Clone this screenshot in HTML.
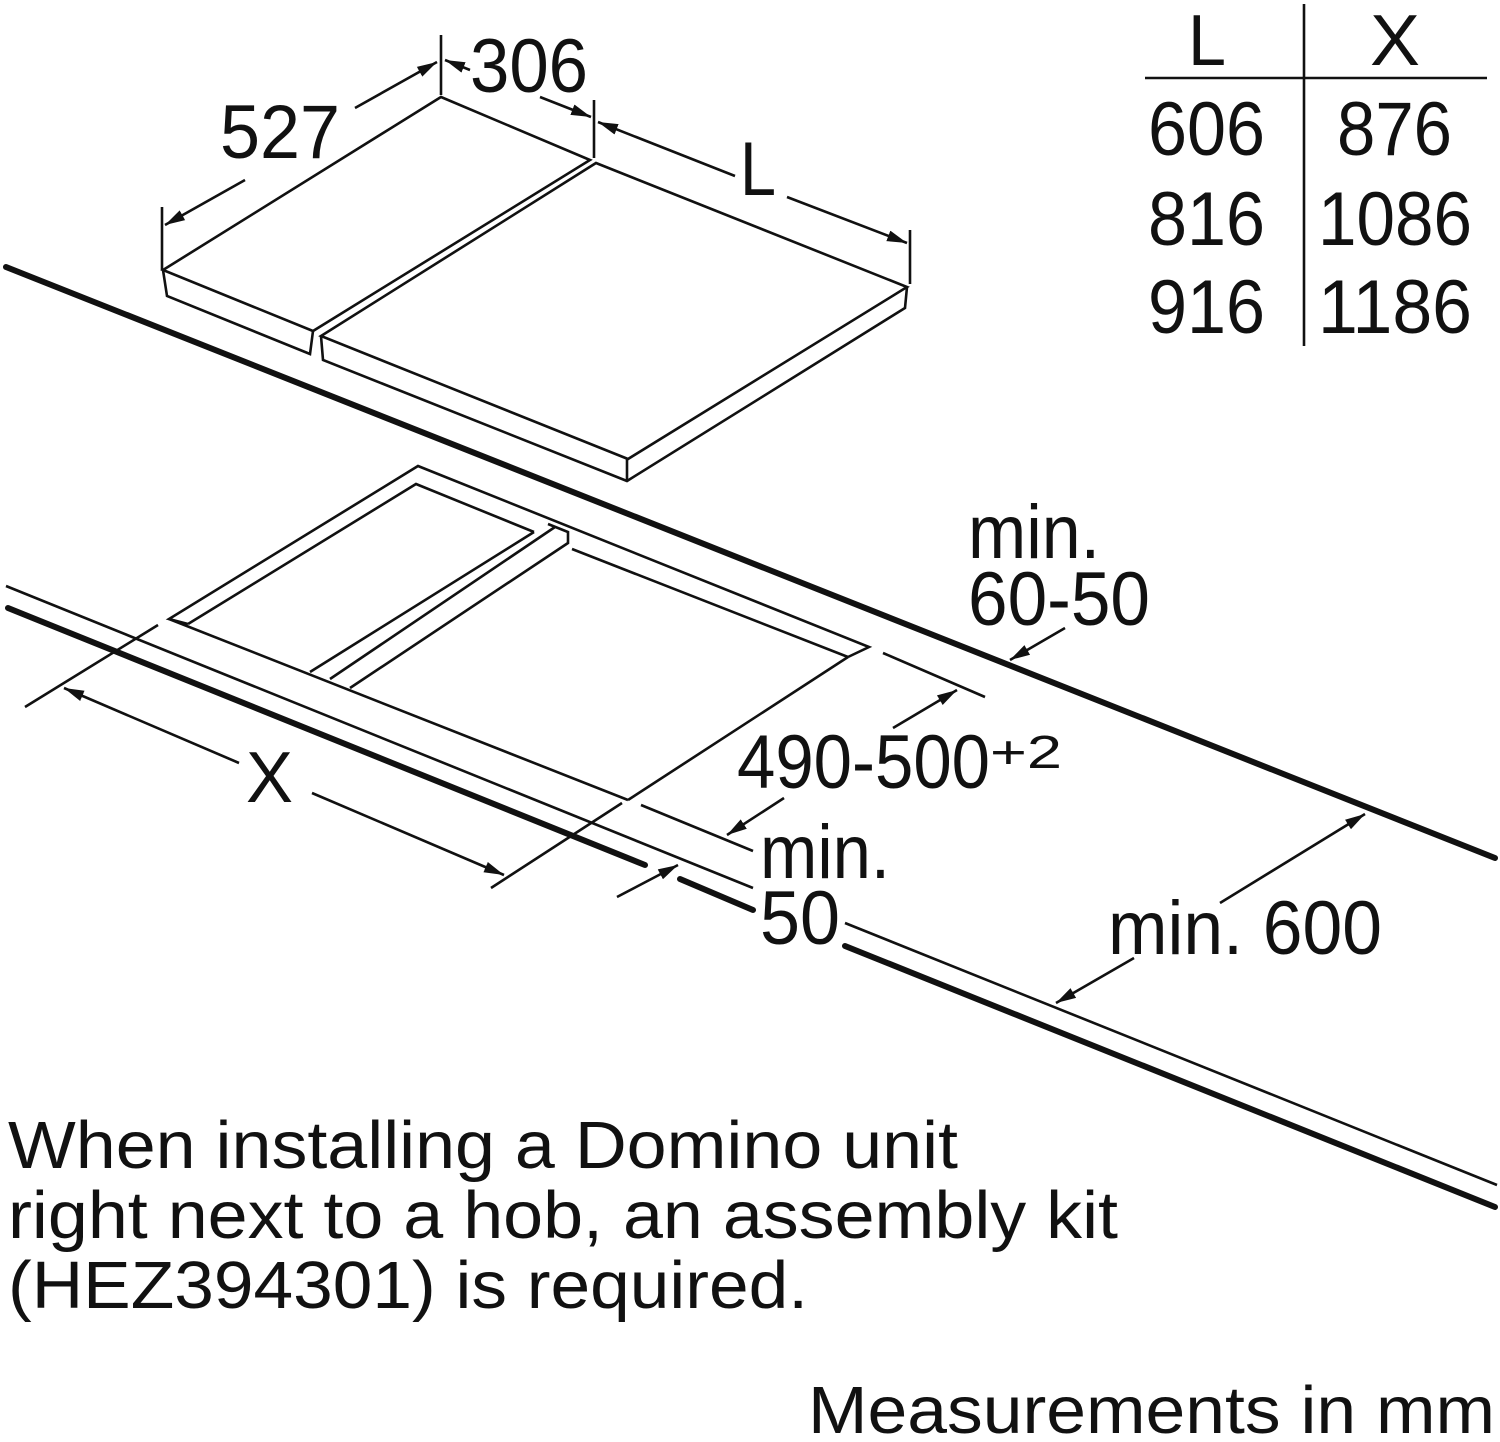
<!DOCTYPE html>
<html><head><meta charset="utf-8"><style>
html,body{margin:0;padding:0;background:#fff;}
svg{display:block;}
text{font-family:"Liberation Sans",Arial,sans-serif;fill:#111;}
</style></head><body>
<svg width="1500" height="1442" viewBox="0 0 1500 1442" xmlns="http://www.w3.org/2000/svg">
<defs>
<marker id="b" viewBox="0 0 10 10" refX="10" refY="5" markerWidth="20" markerHeight="14" markerUnits="userSpaceOnUse" orient="auto-start-reverse" preserveAspectRatio="none">
<path d="M0,1 L10,5 L0,9 z" fill="#111"/></marker>
</defs>
<g stroke="#111" stroke-width="2.6" fill="none" stroke-linejoin="miter">
<polygon points="441,97 590,160 313,331 163,270"/>
<polyline points="163,270 167,296 310,354 313,331"/>
<polygon points="596,163 907,287 628,459 321,336"/>
<polyline points="321,336 323,360 627,481 905,308 907,287"/>
<line x1="627" y1="459" x2="627" y2="481"/>
<line x1="441" y1="35" x2="441" y2="95"/>
<line x1="594" y1="100" x2="594" y2="158"/>
<line x1="162" y1="207" x2="162" y2="270"/>
<line x1="910" y1="230" x2="910" y2="284"/>
<line x1="245" y1="180" x2="165" y2="225" marker-end="url(#b)"/>
<line x1="355" y1="108" x2="437" y2="62" marker-end="url(#b)"/>
<line x1="470" y1="70" x2="445" y2="60" marker-end="url(#b)"/>
<line x1="540" y1="97" x2="591" y2="117" marker-end="url(#b)"/>
<line x1="735" y1="176" x2="598" y2="122" marker-end="url(#b)"/>
<line x1="787" y1="197" x2="907" y2="243" marker-end="url(#b)"/>
<polyline points="188,624 169,619 418,466 869,647 848,657"/>
<line x1="169" y1="619" x2="628" y2="800"/>
<line x1="628" y1="800" x2="848" y2="657"/>
<polyline points="188,624 416,484 534,532"/>
<line x1="534" y1="532" x2="310" y2="672"/>
<line x1="555" y1="527" x2="330" y2="679"/>
<polyline points="548,524 568,532 568,543 350,688"/>
<line x1="572" y1="549" x2="848" y2="657"/>
<line x1="6" y1="586" x2="753" y2="888"/>
<line x1="845" y1="923" x2="1497" y2="1185"/>
<line x1="158" y1="625" x2="25" y2="707"/>
<line x1="622" y1="803" x2="491" y2="888"/>
<line x1="883" y1="653" x2="985" y2="697"/>
<line x1="641" y1="805" x2="753" y2="851"/>
<line x1="239" y1="763" x2="64" y2="688" marker-end="url(#b)"/>
<line x1="312" y1="793" x2="504" y2="875" marker-end="url(#b)"/>
<line x1="893" y1="728" x2="957" y2="690" marker-end="url(#b)"/>
<line x1="784" y1="798" x2="727" y2="835" marker-end="url(#b)"/>
<line x1="617" y1="897" x2="678" y2="865" marker-end="url(#b)"/>
<line x1="1220" y1="903" x2="1365" y2="814" marker-end="url(#b)"/>
<line x1="1134" y1="958" x2="1056" y2="1003" marker-end="url(#b)"/>
<line x1="1065" y1="628" x2="1010" y2="660" marker-end="url(#b)"/>
<line x1="1304" y1="4" x2="1304" y2="346"/>
<line x1="1145" y1="78" x2="1487" y2="78"/>
</g>
<g stroke="#111" stroke-width="6" stroke-linecap="round" fill="none">
<line x1="6" y1="267" x2="1495" y2="858"/>
<line x1="8" y1="608" x2="645" y2="865"/>
<line x1="680" y1="879" x2="753" y2="910"/>
<line x1="845" y1="946" x2="1495" y2="1207"/>
</g>
<g font-size="76">
<text x="220" y="158" textLength="120" lengthAdjust="spacingAndGlyphs">527</text>
<text x="470" y="92" textLength="118" lengthAdjust="spacingAndGlyphs">306</text>
<text x="740" y="195" textLength="36" lengthAdjust="spacingAndGlyphs">L</text>
<text x="246" y="802" font-size="72" textLength="47" lengthAdjust="spacingAndGlyphs">X</text>
<text x="1188" y="65" font-size="72" textLength="38" lengthAdjust="spacingAndGlyphs">L</text>
<text x="1370" y="65" font-size="72" textLength="50" lengthAdjust="spacingAndGlyphs">X</text>
<text x="1148" y="155" textLength="117" lengthAdjust="spacingAndGlyphs">606</text>
<text x="1337" y="155" textLength="115" lengthAdjust="spacingAndGlyphs">876</text>
<text x="1148" y="245" textLength="117" lengthAdjust="spacingAndGlyphs">816</text>
<text x="1318" y="245" textLength="154" lengthAdjust="spacingAndGlyphs">1086</text>
<text x="1148" y="333" textLength="117" lengthAdjust="spacingAndGlyphs">916</text>
<text x="1318" y="333" textLength="154" lengthAdjust="spacingAndGlyphs">1186</text>
<text x="968" y="558" textLength="132" lengthAdjust="spacingAndGlyphs">min.</text>
<text x="968" y="625" textLength="182" lengthAdjust="spacingAndGlyphs">60-50</text>
<text x="737" y="788" textLength="253" lengthAdjust="spacingAndGlyphs">490-500</text>
<text x="990" y="768" font-size="46" textLength="72" lengthAdjust="spacingAndGlyphs">+2</text>
<text x="760" y="878" textLength="130" lengthAdjust="spacingAndGlyphs">min.</text>
<text x="760" y="944" textLength="80" lengthAdjust="spacingAndGlyphs">50</text>
<text x="1108" y="954" textLength="274" lengthAdjust="spacingAndGlyphs">min. 600</text>
</g>
<g font-size="67">
<text x="8" y="1168" textLength="950" lengthAdjust="spacingAndGlyphs">When installing a Domino unit</text>
<text x="8" y="1238" textLength="1110" lengthAdjust="spacingAndGlyphs">right next to a hob, an assembly kit</text>
<text x="8" y="1308" textLength="800" lengthAdjust="spacingAndGlyphs">(HEZ394301) is required.</text>
<text x="808" y="1433" textLength="687" lengthAdjust="spacingAndGlyphs">Measurements in mm</text>
</g>
</svg>
</body></html>
